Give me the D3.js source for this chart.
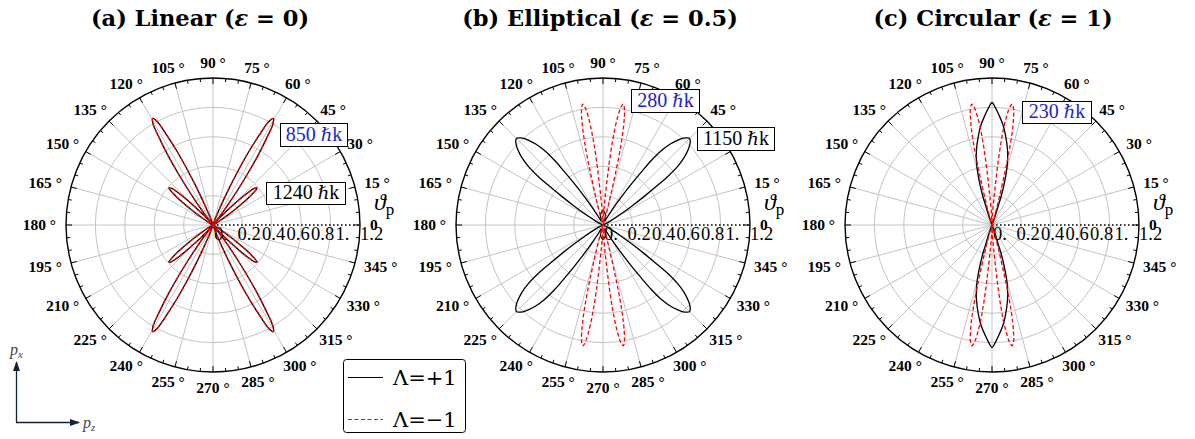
<!DOCTYPE html>
<html>
<head>
<meta charset="utf-8">
<script src="https://cdn.jsdelivr.net/npm/d3@7"></script>
<style>
  html, body { margin: 0; padding: 0; background: #fff; }
  svg { display: block; }
</style>
</head>
<body>
<svg id="chart" width="1195" height="439"></svg>
<script>
// ---- Data: angular distributions, first quadrant [angle in degrees, radial value] ----
// Each curve is symmetric about both axes; the other quadrants are mirrored copies.
const linearPlus = [[0,0],[24,0],[28,0.01],[31,0.04],[33,0.1],[35,0.2],[37,0.33],[38.5,0.42],[40,0.47],[41.5,0.45],[43,0.37],[45,0.22],[47,0.1],[49,0.03],[50.5,0.02],[51.9,0.08],[53.6,0.2],[54.75,0.34],[55.9,0.5],[57.05,0.67],[58.2,0.82],[59.35,0.96],[60.5,1.0],[61.65,0.96],[62.8,0.82],[63.95,0.67],[65.1,0.5],[66.25,0.34],[67.4,0.2],[69.1,0.08],[71.5,0.02],[76,0],[90,0]];
const linearMinus = [[0,0],[24,0],[28,0.01],[31,0.04],[33,0.1],[35,0.2],[37,0.33],[38.5,0.42],[40,0.47],[41.5,0.45],[43,0.37],[45,0.22],[47,0.1],[49,0.03],[50.5,0.02],[51.9,0.08],[53.6,0.2],[54.75,0.34],[55.9,0.5],[57.05,0.67],[58.2,0.82],[59.35,0.96],[60.5,1.0],[61.65,0.96],[62.8,0.82],[63.95,0.67],[65.1,0.5],[66.25,0.34],[67.4,0.2],[69.1,0.08],[71.5,0.02],[76,0],[90,0]];
const ellipticalPlus = [[0,0],[22,0],[25.5,0.03],[28.2,0.067],[31.4,0.167],[33.4,0.29],[34.8,0.413],[35.9,0.535],[36.8,0.658],[38.2,0.78],[39.7,0.86],[41.4,0.924],[42.7,0.964],[43.9,0.988],[45,1.0],[46.1,0.988],[47.3,0.964],[48.6,0.924],[50.3,0.86],[51.8,0.78],[53.2,0.658],[54.1,0.535],[55.2,0.413],[56.6,0.29],[58.6,0.167],[61.8,0.067],[64.5,0.035],[67,0.035],[71,0.05],[76,0.084],[83.4,0.107],[90,0.118]];
const ellipticalMinus = [[0,0],[60,0],[70,0.01],[73.7,0.082],[75.2,0.205],[76.2,0.368],[76.8,0.532],[77.5,0.695],[78.2,0.817],[78.8,0.898],[79.4,0.955],[80,0.988],[80.5,1.0],[81,0.988],[81.6,0.955],[82.2,0.898],[82.8,0.817],[83.5,0.695],[84.2,0.532],[84.8,0.368],[85.8,0.205],[87.3,0.082],[90,0.02]];
const circularPlus = [[0,0],[66,0],[70.7,0.087],[72,0.171],[72.4,0.257],[73.9,0.382],[75.7,0.505],[78.3,0.625],[81.5,0.743],[83.7,0.821],[86.4,0.9],[88.5,0.963],[90,1.0]];
const circularMinus = [[0,0],[60,0],[70,0.01],[73.5,0.082],[75,0.205],[76,0.368],[76.6,0.532],[77.3,0.695],[78,0.817],[78.7,0.898],[79.3,0.955],[80,0.988],[80.5,1.0],[81,0.988],[81.7,0.955],[82.3,0.898],[83,0.817],[83.7,0.695],[84.4,0.532],[85,0.368],[86,0.205],[87.5,0.082],[90,0.02]];

// ---- Labels ----
const panelTitles = [
  ["(a) Linear (", "ε", " = 0)"],
  ["(b) Elliptical (", "ε", " = 0.5)"],
  ["(c) Circular (", "ε", " = 1)"]
];
const angleTicks = d3.range(0, 360, 15);
const radialTicks = [0, 0.2, 0.4, 0.6, 0.8, 1.0, 1.2];
const radialTickLabels = ["0.", "0.2", "0.4", "0.6", "0.8", "1.", "1.2"];
const gridRings = [0.24, 0.48, 0.72, 0.96];
const energyLabels = [
  [["850", "blue"], ["1240", "black"]],
  [["280", "blue"], ["1150", "black"]],
  [["230", "blue"]]
];
const legendLabels = ["Λ=+1", "Λ=−1"];

// ---- Layout ----
const svg = d3.select("#chart");
const R = 147;
const centers = [[213, 225], [603, 225], [992, 225]];
const titleX = [200, 600, 993];
const boxPos = [
  [[280, 123, 67, 23], [266, 182, 79, 22]],
  [[631, 89, 68, 23], [697, 127, 77, 23]],
  [[1022, 101, 69, 22]]
];
const series = [
  [linearPlus, linearMinus],
  [ellipticalPlus, ellipticalMinus],
  [circularPlus, circularMinus]
];

const rScale = d3.scaleLinear().domain([0, 1.2]).range([0, R]);
const toRad = d => d * Math.PI / 180;

// mirror a first-quadrant curve into a full closed curve
function fullCurve(q) {
  const out = [];
  const push = (a, r) => {
    const last = out[out.length - 1];
    if (last && Math.abs(last[0] - a) < 1e-9) return;
    out.push([a, r]);
  };
  q.forEach(([a, r]) => push(a, r));
  q.slice().reverse().forEach(([a, r]) => push(180 - a, r));
  q.forEach(([a, r]) => push(180 + a, r));
  q.slice().reverse().forEach(([a, r]) => push(360 - a, r));
  if (Math.abs(out[out.length - 1][0] - 360) < 1e-9) out.pop();
  return out;
}

const radial = d3.lineRadial()
  .angle(d => Math.PI / 2 - toRad(d[0]))
  .radius(d => rScale(d[1]))
  .curve(d3.curveCatmullRomClosed.alpha(0.5));

const serif = "'Liberation Serif', 'DejaVu Serif', serif";

centers.forEach(([cx, cy], i) => {
  const g = svg.append("g").attr("transform", `translate(${cx},${cy})`);

  // grid rings
  g.selectAll("circle.ring").data(gridRings).join("circle")
    .attr("r", d => rScale(d)).attr("fill", "none")
    .attr("stroke", "#c4c4c4").attr("stroke-width", 1);

  // spokes
  g.selectAll("line.spoke").data(angleTicks.filter(a => a !== 0)).join("line")
    .attr("x1", 0).attr("y1", 0)
    .attr("x2", a => R * Math.cos(toRad(a)))
    .attr("y2", a => -R * Math.sin(toRad(a)))
    .attr("stroke", "#c4c4c4").attr("stroke-width", 1);

  // outer circle and angular ticks
  g.append("circle").attr("r", R).attr("fill", "none")
    .attr("stroke", "#000").attr("stroke-width", 1.4);
  g.selectAll("line.tick").data(d3.range(0, 360, 5)).join("line")
    .attr("x1", a => R * Math.cos(toRad(a)))
    .attr("y1", a => -R * Math.sin(toRad(a)))
    .attr("x2", a => (R - (a % 15 === 0 ? 6 : 3.5)) * Math.cos(toRad(a)))
    .attr("y2", a => -(R - (a % 15 === 0 ? 6 : 3.5)) * Math.sin(toRad(a)))
    .attr("stroke", "#000").attr("stroke-width", 1);

  // radial axis (dotted) along 0 degrees
  g.append("line").attr("x1", 0).attr("y1", 0).attr("x2", R).attr("y2", 0)
    .attr("stroke", "#000").attr("stroke-width", 1.6).attr("stroke-dasharray", "1.6,2.4");

  // radial tick labels
  g.selectAll("text.rlab").data(radialTicks).join("text")
    .attr("x", (d, k) => rScale(d) + (k === 0 ? 1 : 0)).attr("y", 15)
    .attr("font-family", serif).attr("font-size", 18.5).attr("fill", "#000")
    .text((d, k) => radialTickLabels[k]);

  // angle labels
  angleTicks.forEach(a => {
    const t = g.append("text")
      .attr("font-family", serif).attr("font-weight", "bold").attr("font-size", 15.5)
      .attr("fill", "#000").attr("text-anchor", "middle")
      .text(a === 0 ? "0" : `${a} °`);
    const w = t.node().getComputedTextLength();
    const h = 11;
    const ca = Math.cos(toRad(a)), sa = Math.sin(toRad(a));
    const rr = R + 9;
    const x = rr * ca + (w / 2 + 1) * ca;
    const y = -rr * sa - (h / 2 + 1) * sa;
    t.attr("x", x).attr("y", y + h / 2 - 0.5);
  });

  // theta_p label
  const th = g.append("text").attr("x", 161).attr("y", -15)
    .attr("font-family", serif).attr("font-size", 24).attr("fill", "#000");
  th.append("tspan").attr("font-style", "italic").text("ϑ");
  th.append("tspan").attr("font-size", 17).attr("dy", 5).text("p");

  // distributions
  const [plus, minus] = series[i];
  g.append("path").datum(fullCurve(plus)).attr("d", radial)
    .attr("fill", "none").attr("stroke", "#000").attr("stroke-width", 1.3);
  g.append("path").datum(fullCurve(minus)).attr("d", radial)
    .attr("fill", "none").attr("stroke", "#ff0000").attr("stroke-width", 1.3)
    .attr("stroke-dasharray", "4,2.5");

  // title
  const tt = svg.append("text").attr("x", titleX[i]).attr("y", 26)
    .attr("text-anchor", "middle").attr("font-family", "'DejaVu Serif', serif")
    .attr("font-weight", "bold").attr("font-size", 22.5).attr("fill", "#000");
  tt.append("tspan").text(panelTitles[i][0]);
  tt.append("tspan").attr("font-style", "italic").text(panelTitles[i][1]);
  tt.append("tspan").text(panelTitles[i][2]);

  // momentum annotations
  energyLabels[i].forEach(([val, col], k) => {
    const [bx, by, bw, bh] = boxPos[i][k];
    svg.append("rect").attr("x", bx + 0.5).attr("y", by + 0.5).attr("width", bw).attr("height", bh)
      .attr("fill", "#fff").attr("stroke", "#000").attr("stroke-width", 1);
    const t = svg.append("text").attr("x", bx + bw / 2 + 0.5).attr("y", by + bh - 5)
      .attr("text-anchor", "middle").attr("font-family", serif).attr("font-size", 20)
      .attr("fill", col === "blue" ? "#2323c8" : "#000");
    t.append("tspan").text(val + " ");
    t.append("tspan").attr("font-style", "italic").attr("font-family", "'DejaVu Serif', serif").attr("font-size", 18).text("ℏ");
    t.append("tspan").text("k");
  });
});

// legend
const lg = svg.append("g").attr("transform", "translate(343,359)");
lg.append("rect").attr("x", 0.5).attr("y", 0.5).attr("width", 122).attr("height", 73).attr("rx", 3)
  .attr("fill", "#fff").attr("stroke", "#000").attr("stroke-width", 1);
lg.append("line").attr("x1", 5).attr("x2", 40).attr("y1", 18.5).attr("y2", 18.5)
  .attr("stroke", "#000").attr("stroke-width", 1.2);
lg.append("line").attr("x1", 5).attr("x2", 40).attr("y1", 60.5).attr("y2", 60.5)
  .attr("stroke", "#ff0000").attr("stroke-width", 1.2).attr("stroke-dasharray", "4,2.5");
lg.selectAll("text").data(legendLabels).join("text")
  .attr("x", 50).attr("y", (d, k) => 26 + k * 42)
  .attr("font-family", "'DejaVu Serif', serif").attr("font-size", 21).attr("fill", "#000")
  .text(d => d);

// momentum axes indicator
const ax = svg.append("g");
const defs = svg.append("defs");
defs.append("marker").attr("id", "ah").attr("viewBox", "0 0 10 10").attr("refX", 9).attr("refY", 5)
  .attr("markerWidth", 10).attr("markerHeight", 10).attr("markerUnits", "userSpaceOnUse")
  .attr("orient", "auto")
  .append("path").attr("d", "M0,1.5 L10,5 L0,8.5 Z").attr("fill", "#14203a");
ax.append("line").attr("x1", 16.5).attr("y1", 422.5).attr("x2", 16.5).attr("y2", 362)
  .attr("stroke", "#14203a").attr("stroke-width", 1.3).attr("marker-end", "url(#ah)");
ax.append("line").attr("x1", 16).attr("y1", 422.5).attr("x2", 79).attr("y2", 422.5)
  .attr("stroke", "#14203a").attr("stroke-width", 1.3).attr("marker-end", "url(#ah)");
const pxl = ax.append("text").attr("x", 10).attr("y", 355).attr("font-family", serif)
  .attr("font-size", 16).attr("fill", "#444");
pxl.append("tspan").attr("font-style", "italic").text("p");
pxl.append("tspan").attr("font-style", "italic").attr("font-size", 11).attr("dy", 3).text("x");
const pzl = ax.append("text").attr("x", 83).attr("y", 428).attr("font-family", serif)
  .attr("font-size", 16).attr("fill", "#444");
pzl.append("tspan").attr("font-style", "italic").text("p");
pzl.append("tspan").attr("font-style", "italic").attr("font-size", 11).attr("dy", 3).text("z");
</script>
</body>
</html>
